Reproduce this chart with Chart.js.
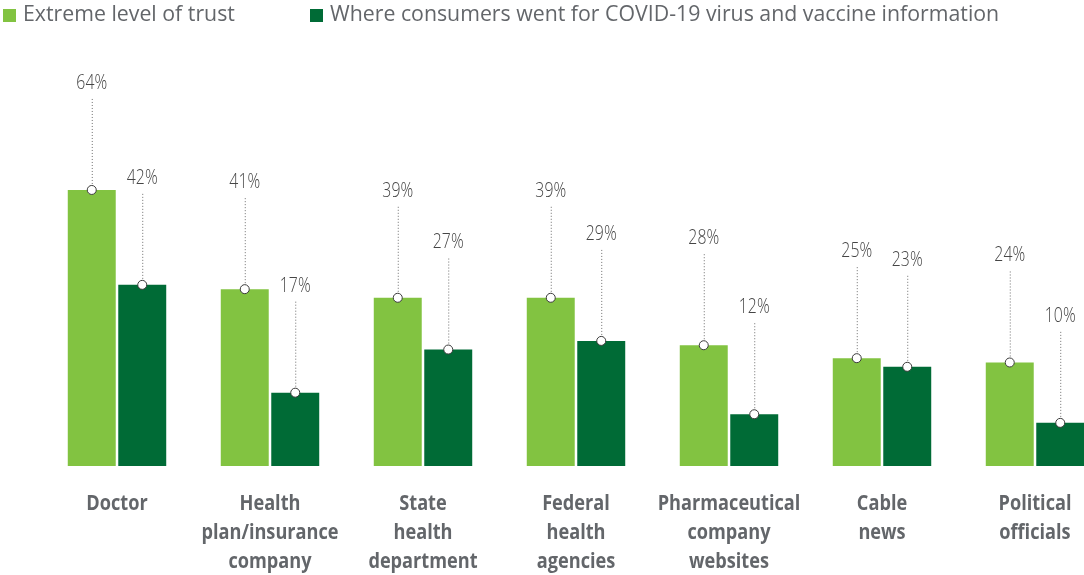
<!DOCTYPE html>
<html>
<head>
<meta charset="utf-8">
<script src="https://cdn.jsdelivr.net/npm/chart.js@4"></script>
<style>
  body { margin: 0; background: #fff; }
  #wrap { position: relative; width: 1084px; height: 575px; }
  #legend { position: absolute; top: 0; left: 0; font: 21.3px "Open Sans", sans-serif; color: #63666a; }
  #legend span.item { position: absolute; top: -1px; white-space: nowrap; line-height: 28px; }
  #legend i { display: inline-block; width: 13px; height: 13px; vertical-align: -1px; margin-right: 7px; }
</style>
</head>
<body>
<div id="wrap">
  <div id="legend"></div>
  <canvas id="chart" width="1084" height="575"></canvas>
</div>
<script>
const categories = [
  ['Doctor'],
  ['Health', 'plan/insurance', 'company'],
  ['State', 'health', 'department'],
  ['Federal', 'health', 'agencies'],
  ['Pharmaceutical', 'company', 'websites'],
  ['Cable', 'news'],
  ['Political', 'officials']
];
const trustValues = [64, 41, 39, 39, 28, 25, 24];
const infoValues = [42, 17, 27, 29, 12, 23, 10];
const seriesNames = ['Extreme level of trust', 'Where consumers went for COVID-19 virus and vaccine information'];
const seriesColors = ['#82c341', '#006b36'];

// legend positions (left edge of each swatch)
const legendX = [3, 310];
const legend = document.getElementById('legend');
seriesNames.forEach((name, i) => {
  const s = document.createElement('span');
  s.className = 'item';
  s.style.left = legendX[i] + 'px';
  s.innerHTML = `<i style="background:${seriesColors[i]}"></i>${name}`;
  legend.appendChild(s);
});

function condensedText(ctx, text, x, y, sx) {
  ctx.save();
  ctx.translate(x, y);
  ctx.scale(sx, 1);
  ctx.fillText(text, 0, 0);
  ctx.restore();
}

// value callouts: dotted leader from the label down to a ring on the bar top
const calloutPlugin = {
  id: 'callouts',
  afterDatasetsDraw(chart) {
    const ctx = chart.ctx;
    chart.data.datasets.forEach((ds, di) => {
      const meta = chart.getDatasetMeta(di);
      meta.data.forEach((bar, i) => {
        const x = bar.x, y = bar.y;
        ctx.save();
        ctx.strokeStyle = '#6e6e6e';
        ctx.lineWidth = 1;
        ctx.setLineDash([1, 2]);
        ctx.beginPath();
        ctx.moveTo(x + 0.5, y - 91);
        ctx.lineTo(x + 0.5, y);
        ctx.stroke();
        ctx.setLineDash([]);
        ctx.beginPath();
        ctx.arc(x, y, 4.5, 0, Math.PI * 2);
        ctx.fillStyle = '#fff';
        ctx.fill();
        ctx.strokeStyle = '#3c3c3c';
        ctx.lineWidth = 1;
        ctx.stroke();
        ctx.fillStyle = '#454545';
        ctx.font = '300 20.5px "Open Sans"';
        ctx.textAlign = 'center';
        ctx.textBaseline = 'middle';
        condensedText(ctx, ds.data[i] + '%', x, y - 107, 0.77);
        ctx.restore();
      });
    });
  },
  afterDraw(chart) {
    const ctx = chart.ctx;
    const xs = chart.scales.x;
    ctx.save();
    ctx.fillStyle = '#63666a';
    ctx.font = 'bold 21px "Open Sans"';
    ctx.textAlign = 'center';
    ctx.textBaseline = 'middle';
    categories.forEach((lines, i) => {
      const x = xs.getPixelForValue(i);
      lines.forEach((t, k) => condensedText(ctx, t, x, 504 + k * 29, 0.865));
    });
    ctx.restore();
  }
};

new Chart(document.getElementById('chart'), {
  type: 'bar',
  data: {
    labels: categories.map(c => c.join(' ')),
    datasets: [
      { label: seriesNames[0], data: trustValues, backgroundColor: seriesColors[0], clip: false },
      { label: seriesNames[1], data: infoValues, backgroundColor: seriesColors[1], clip: false }
    ]
  },
  options: {
    responsive: false,
    animation: false,
    categoryPercentage: 0.66,
    barPercentage: 0.95,
    layout: { padding: { left: 117, right: 49, top: 39, bottom: 109 } },
    plugins: { legend: { display: false }, tooltip: { enabled: false } },
    scales: {
      x: { display: false, offset: false },
      y: { display: false, min: 0, max: 99 }
    }
  },
  plugins: [calloutPlugin]
});
</script>
</body>
</html>
